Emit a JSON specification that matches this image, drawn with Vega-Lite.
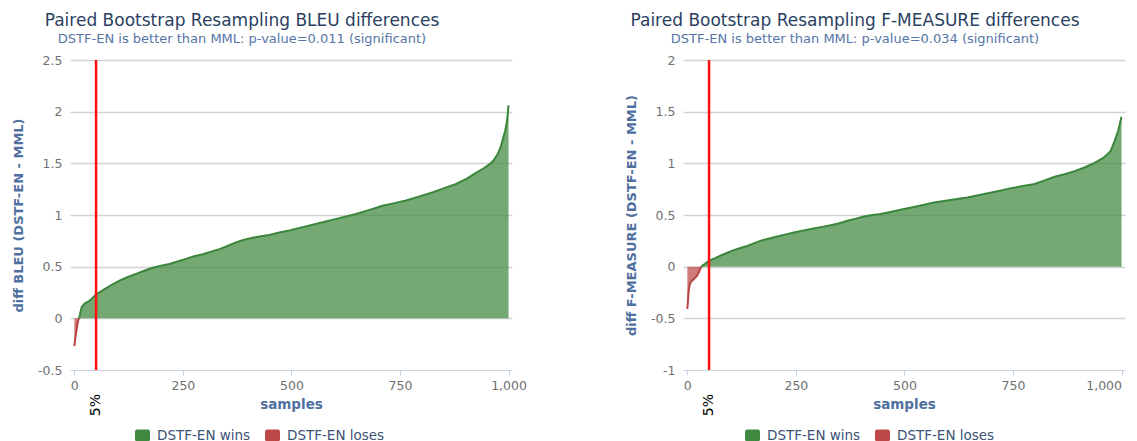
{
  "$schema": "https://vega.github.io/schema/vega-lite/v6.json",
  "background": "white",
  "padding": {"left": 12, "top": 12, "right": 5, "bottom": 0},
  "spacing": 98,
  "config": {
    "font": "DejaVu Sans",
    "view": {"stroke": null},
    "title": {"fontSize": 17, "fontWeight": "normal", "color": "#2a3f5f", "subtitleFontSize": 13, "subtitleColor": "#5675a6", "subtitlePadding": 3, "offset": 7, "anchor": "middle", "frame": "group", "dx": -49},
    "axisX": {"grid": false, "domainColor": "#c6d2e0", "tickColor": "#c6d2e0", "tickSize": 5, "labelPadding": 4, "titlePadding": 6, "labelFontSize": 12.5, "labelColor": "#707070", "titleFontWeight": "bold", "titleColor": "#4f6f9f", "titleFontSize": 13.5},
    "axisY": {"domain": false, "ticks": false, "labelPadding": 8, "labelFontSize": 12.5, "labelColor": "#707070", "gridWidth": 1.5, "titlePadding": 12, "titleFontWeight": "bold", "titleColor": "#4f6f9f", "titleFontSize": 13, "labelExpr": "toString(datum.value)"},
    "legend": {"orient": "none", "direction": "horizontal", "title": null, "symbolType": "M -0.7 -0.8 H 0.7 Q 1 -0.8 1 -0.5 V 0.5 Q 1 0.8 0.7 0.8 H -0.7 Q -1 0.8 -1 0.5 V -0.5 Q -1 -0.8 -0.7 -0.8 Z", "symbolSize": 225, "symbolOpacity": 1, "symbolStrokeWidth": 0, "labelFontSize": 13.5, "labelColor": "#3d5275", "labelOffset": 7, "columnPadding": 14, "padding": 0}
  },
  "datasets": {
    "bleu": [
      {"sample": 0, "diff": -0.27, "outcome": "DSTF-EN loses"},
      {"sample": 3, "diff": -0.17, "outcome": "DSTF-EN loses"},
      {"sample": 7, "diff": -0.06, "outcome": "DSTF-EN loses"},
      {"sample": 9, "diff": -0.02, "outcome": "DSTF-EN loses"},
      {"sample": 11, "diff": 0, "outcome": "DSTF-EN loses"},
      {"sample": 11, "diff": 0, "outcome": "DSTF-EN wins"},
      {"sample": 14, "diff": 0.06, "outcome": "DSTF-EN wins"},
      {"sample": 17, "diff": 0.107, "outcome": "DSTF-EN wins"},
      {"sample": 23, "diff": 0.14, "outcome": "DSTF-EN wins"},
      {"sample": 35, "diff": 0.17, "outcome": "DSTF-EN wins"},
      {"sample": 50, "diff": 0.23, "outcome": "DSTF-EN wins"},
      {"sample": 65, "diff": 0.27, "outcome": "DSTF-EN wins"},
      {"sample": 84, "diff": 0.32, "outcome": "DSTF-EN wins"},
      {"sample": 104, "diff": 0.365, "outcome": "DSTF-EN wins"},
      {"sample": 123, "diff": 0.4, "outcome": "DSTF-EN wins"},
      {"sample": 142, "diff": 0.43, "outcome": "DSTF-EN wins"},
      {"sample": 161, "diff": 0.46, "outcome": "DSTF-EN wins"},
      {"sample": 180, "diff": 0.49, "outcome": "DSTF-EN wins"},
      {"sample": 200, "diff": 0.51, "outcome": "DSTF-EN wins"},
      {"sample": 219, "diff": 0.526, "outcome": "DSTF-EN wins"},
      {"sample": 238, "diff": 0.55, "outcome": "DSTF-EN wins"},
      {"sample": 257, "diff": 0.575, "outcome": "DSTF-EN wins"},
      {"sample": 276, "diff": 0.6, "outcome": "DSTF-EN wins"},
      {"sample": 296, "diff": 0.62, "outcome": "DSTF-EN wins"},
      {"sample": 315, "diff": 0.645, "outcome": "DSTF-EN wins"},
      {"sample": 334, "diff": 0.67, "outcome": "DSTF-EN wins"},
      {"sample": 353, "diff": 0.7, "outcome": "DSTF-EN wins"},
      {"sample": 372, "diff": 0.735, "outcome": "DSTF-EN wins"},
      {"sample": 391, "diff": 0.76, "outcome": "DSTF-EN wins"},
      {"sample": 411, "diff": 0.78, "outcome": "DSTF-EN wins"},
      {"sample": 430, "diff": 0.795, "outcome": "DSTF-EN wins"},
      {"sample": 449, "diff": 0.806, "outcome": "DSTF-EN wins"},
      {"sample": 472, "diff": 0.83, "outcome": "DSTF-EN wins"},
      {"sample": 495, "diff": 0.85, "outcome": "DSTF-EN wins"},
      {"sample": 533, "diff": 0.89, "outcome": "DSTF-EN wins"},
      {"sample": 572, "diff": 0.93, "outcome": "DSTF-EN wins"},
      {"sample": 610, "diff": 0.97, "outcome": "DSTF-EN wins"},
      {"sample": 649, "diff": 1.01, "outcome": "DSTF-EN wins"},
      {"sample": 680, "diff": 1.05, "outcome": "DSTF-EN wins"},
      {"sample": 710, "diff": 1.09, "outcome": "DSTF-EN wins"},
      {"sample": 737, "diff": 1.115, "outcome": "DSTF-EN wins"},
      {"sample": 764, "diff": 1.14, "outcome": "DSTF-EN wins"},
      {"sample": 795, "diff": 1.18, "outcome": "DSTF-EN wins"},
      {"sample": 826, "diff": 1.22, "outcome": "DSTF-EN wins"},
      {"sample": 852, "diff": 1.26, "outcome": "DSTF-EN wins"},
      {"sample": 879, "diff": 1.3, "outcome": "DSTF-EN wins"},
      {"sample": 903, "diff": 1.35, "outcome": "DSTF-EN wins"},
      {"sample": 926, "diff": 1.41, "outcome": "DSTF-EN wins"},
      {"sample": 942, "diff": 1.45, "outcome": "DSTF-EN wins"},
      {"sample": 956, "diff": 1.49, "outcome": "DSTF-EN wins"},
      {"sample": 966, "diff": 1.53, "outcome": "DSTF-EN wins"},
      {"sample": 975, "diff": 1.59, "outcome": "DSTF-EN wins"},
      {"sample": 982, "diff": 1.66, "outcome": "DSTF-EN wins"},
      {"sample": 987, "diff": 1.735, "outcome": "DSTF-EN wins"},
      {"sample": 992, "diff": 1.81, "outcome": "DSTF-EN wins"},
      {"sample": 996, "diff": 1.895, "outcome": "DSTF-EN wins"},
      {"sample": 998, "diff": 1.97, "outcome": "DSTF-EN wins"},
      {"sample": 1000, "diff": 2.06, "outcome": "DSTF-EN wins"}
    ],
    "fmeasure": [
      {"sample": 0, "diff": -0.41, "outcome": "DSTF-EN loses"},
      {"sample": 2, "diff": -0.3, "outcome": "DSTF-EN loses"},
      {"sample": 3, "diff": -0.24, "outcome": "DSTF-EN loses"},
      {"sample": 5, "diff": -0.18, "outcome": "DSTF-EN loses"},
      {"sample": 8, "diff": -0.15, "outcome": "DSTF-EN loses"},
      {"sample": 15, "diff": -0.12, "outcome": "DSTF-EN loses"},
      {"sample": 22, "diff": -0.09, "outcome": "DSTF-EN loses"},
      {"sample": 27, "diff": -0.05, "outcome": "DSTF-EN loses"},
      {"sample": 32, "diff": 0, "outcome": "DSTF-EN loses"},
      {"sample": 32, "diff": 0, "outcome": "DSTF-EN wins"},
      {"sample": 40, "diff": 0.025, "outcome": "DSTF-EN wins"},
      {"sample": 50, "diff": 0.058, "outcome": "DSTF-EN wins"},
      {"sample": 63, "diff": 0.08, "outcome": "DSTF-EN wins"},
      {"sample": 76, "diff": 0.106, "outcome": "DSTF-EN wins"},
      {"sample": 92, "diff": 0.135, "outcome": "DSTF-EN wins"},
      {"sample": 107, "diff": 0.16, "outcome": "DSTF-EN wins"},
      {"sample": 122, "diff": 0.18, "outcome": "DSTF-EN wins"},
      {"sample": 138, "diff": 0.2, "outcome": "DSTF-EN wins"},
      {"sample": 153, "diff": 0.225, "outcome": "DSTF-EN wins"},
      {"sample": 168, "diff": 0.25, "outcome": "DSTF-EN wins"},
      {"sample": 191, "diff": 0.275, "outcome": "DSTF-EN wins"},
      {"sample": 214, "diff": 0.3, "outcome": "DSTF-EN wins"},
      {"sample": 230, "diff": 0.315, "outcome": "DSTF-EN wins"},
      {"sample": 245, "diff": 0.33, "outcome": "DSTF-EN wins"},
      {"sample": 268, "diff": 0.35, "outcome": "DSTF-EN wins"},
      {"sample": 291, "diff": 0.37, "outcome": "DSTF-EN wins"},
      {"sample": 310, "diff": 0.385, "outcome": "DSTF-EN wins"},
      {"sample": 330, "diff": 0.4, "outcome": "DSTF-EN wins"},
      {"sample": 350, "diff": 0.42, "outcome": "DSTF-EN wins"},
      {"sample": 369, "diff": 0.445, "outcome": "DSTF-EN wins"},
      {"sample": 388, "diff": 0.465, "outcome": "DSTF-EN wins"},
      {"sample": 407, "diff": 0.485, "outcome": "DSTF-EN wins"},
      {"sample": 426, "diff": 0.5, "outcome": "DSTF-EN wins"},
      {"sample": 445, "diff": 0.51, "outcome": "DSTF-EN wins"},
      {"sample": 468, "diff": 0.53, "outcome": "DSTF-EN wins"},
      {"sample": 491, "diff": 0.55, "outcome": "DSTF-EN wins"},
      {"sample": 530, "diff": 0.585, "outcome": "DSTF-EN wins"},
      {"sample": 568, "diff": 0.62, "outcome": "DSTF-EN wins"},
      {"sample": 606, "diff": 0.645, "outcome": "DSTF-EN wins"},
      {"sample": 645, "diff": 0.67, "outcome": "DSTF-EN wins"},
      {"sample": 692, "diff": 0.71, "outcome": "DSTF-EN wins"},
      {"sample": 720, "diff": 0.735, "outcome": "DSTF-EN wins"},
      {"sample": 746, "diff": 0.76, "outcome": "DSTF-EN wins"},
      {"sample": 773, "diff": 0.78, "outcome": "DSTF-EN wins"},
      {"sample": 800, "diff": 0.8, "outcome": "DSTF-EN wins"},
      {"sample": 823, "diff": 0.835, "outcome": "DSTF-EN wins"},
      {"sample": 846, "diff": 0.87, "outcome": "DSTF-EN wins"},
      {"sample": 869, "diff": 0.895, "outcome": "DSTF-EN wins"},
      {"sample": 892, "diff": 0.925, "outcome": "DSTF-EN wins"},
      {"sample": 915, "diff": 0.96, "outcome": "DSTF-EN wins"},
      {"sample": 938, "diff": 1.005, "outcome": "DSTF-EN wins"},
      {"sample": 957, "diff": 1.05, "outcome": "DSTF-EN wins"},
      {"sample": 968, "diff": 1.09, "outcome": "DSTF-EN wins"},
      {"sample": 975, "diff": 1.12, "outcome": "DSTF-EN wins"},
      {"sample": 984, "diff": 1.215, "outcome": "DSTF-EN wins"},
      {"sample": 992, "diff": 1.31, "outcome": "DSTF-EN wins"},
      {"sample": 996, "diff": 1.38, "outcome": "DSTF-EN wins"},
      {"sample": 1000, "diff": 1.45, "outcome": "DSTF-EN wins"}
    ],
    "threshold": [{"sample": 50, "label": "5%"}]
  },
  "hconcat": [
    {
      "width": 442,
      "height": 310,
      "title": {"text": "Paired Bootstrap Resampling BLEU differences", "subtitle": "DSTF-EN is better than MML: p-value=0.011 (significant)"},
      "layer": [
        {
          "data": {"name": "bleu"},
          "mark": {"type": "area", "fillOpacity": 0.72},
          "encoding": {
            "x": {"field": "sample", "type": "quantitative", "scale": {"domain": [-10, 1008], "nice": false, "zero": false}, "title": "samples", "axis": {"values": [0, 250, 500, 750, 1000], "format": ",.0f"}},
            "y": {"field": "diff", "type": "quantitative", "stack": null, "scale": {"domain": [-0.5, 2.5], "nice": false}, "axis": {"values": [-0.5, 0, 0.5, 1, 1.5, 2, 2.5], "gridColor": {"condition": {"test": "datum.value === -0.5", "value": "transparent"}, "value": "#d2d2d2"}}, "title": "diff BLEU (DSTF-EN - MML)"},
            "y2": {"datum": 0},
            "fill": {"field": "outcome", "type": "nominal", "scale": {"domain": ["DSTF-EN wins", "DSTF-EN loses"], "range": ["#3f883f", "#bd4848"]}, "legend": {"legendX": 65, "legendY": 368}}
          }
        },
        {
          "data": {"name": "bleu"},
          "mark": {"type": "line", "strokeWidth": 2},
          "encoding": {
            "x": {"field": "sample", "type": "quantitative"},
            "y": {"field": "diff", "type": "quantitative"},
            "stroke": {"field": "outcome", "type": "nominal", "scale": {"domain": ["DSTF-EN wins", "DSTF-EN loses"], "range": ["#3a863a", "#b94444"]}, "legend": null}
          }
        },
        {
          "data": {"name": "threshold"},
          "mark": {"type": "rule", "color": "#ff1010", "strokeWidth": 2.5},
          "encoding": {"x": {"field": "sample", "type": "quantitative"}}
        },
        {
          "data": {"name": "threshold"},
          "mark": {"type": "text", "angle": 270, "align": "right", "baseline": "middle", "dx": -24, "fontSize": 14, "color": "black"},
          "encoding": {"x": {"field": "sample", "type": "quantitative"}, "y": {"datum": -0.5}, "text": {"field": "label"}}
        }
      ]
    },
    {
      "width": 442,
      "height": 310,
      "title": {"text": "Paired Bootstrap Resampling F-MEASURE differences", "subtitle": "DSTF-EN is better than MML: p-value=0.034 (significant)"},
      "layer": [
        {
          "data": {"name": "fmeasure"},
          "mark": {"type": "area", "fillOpacity": 0.72},
          "encoding": {
            "x": {"field": "sample", "type": "quantitative", "scale": {"domain": [-10, 1008], "nice": false, "zero": false}, "title": "samples", "axis": {"values": [0, 250, 500, 750, 1000], "format": ",.0f", "labelFlush": 4}},
            "y": {"field": "diff", "type": "quantitative", "stack": null, "scale": {"domain": [-1, 2], "nice": false}, "axis": {"values": [-1, -0.5, 0, 0.5, 1, 1.5, 2], "gridColor": {"condition": {"test": "datum.value === -1", "value": "transparent"}, "value": "#d2d2d2"}}, "title": "diff F-MEASURE (DSTF-EN - MML)"},
            "y2": {"datum": 0},
            "fill": {"field": "outcome", "type": "nominal", "scale": {"domain": ["DSTF-EN wins", "DSTF-EN loses"], "range": ["#3f883f", "#bd4848"]}, "legend": {"legendX": 62, "legendY": 368}}
          }
        },
        {
          "data": {"name": "fmeasure"},
          "mark": {"type": "line", "strokeWidth": 2},
          "encoding": {
            "x": {"field": "sample", "type": "quantitative"},
            "y": {"field": "diff", "type": "quantitative"},
            "stroke": {"field": "outcome", "type": "nominal", "scale": {"domain": ["DSTF-EN wins", "DSTF-EN loses"], "range": ["#3a863a", "#b94444"]}, "legend": null}
          }
        },
        {
          "data": {"name": "threshold"},
          "mark": {"type": "rule", "color": "#ff1010", "strokeWidth": 2.5},
          "encoding": {"x": {"field": "sample", "type": "quantitative"}}
        },
        {
          "data": {"name": "threshold"},
          "mark": {"type": "text", "angle": 270, "align": "right", "baseline": "middle", "dx": -24, "fontSize": 14, "color": "black"},
          "encoding": {"x": {"field": "sample", "type": "quantitative"}, "y": {"datum": -1}, "text": {"field": "label"}}
        }
      ]
    }
  ],
  "resolve": {"scale": {"fill": "independent", "stroke": "independent", "x": "independent", "y": "independent"}, "legend": {"fill": "independent", "stroke": "independent"}}
}
